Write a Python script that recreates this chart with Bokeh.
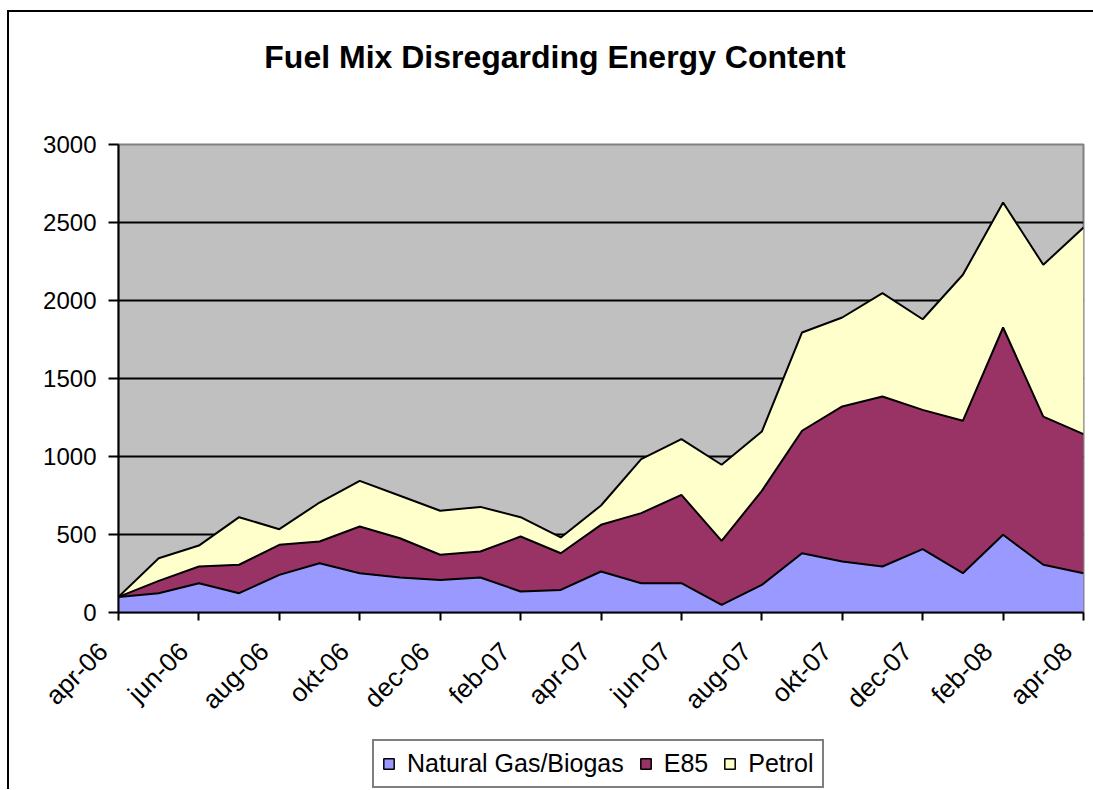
import numpy as np
from math import pi
from bokeh.plotting import figure
from bokeh.layouts import column
from bokeh.models import (ColumnDataSource, FixedTicker, Range1d, Legend, LegendItem, Label)
from bokeh.embed import file_html
from bokeh.resources import INLINE

# ---- data ----
months = ["apr-06", "maj-06", "jun-06", "jul-06", "aug-06", "sep-06", "okt-06", "nov-06",
          "dec-06", "jan-07", "feb-07", "mar-07", "apr-07", "maj-07", "jun-07", "jul-07",
          "aug-07", "sep-07", "okt-07", "nov-07", "dec-07", "jan-08", "feb-08", "mar-08", "apr-08"]
gas = [100, 124, 188, 124, 241, 316, 252, 224, 209, 224, 135, 145, 263,
       188, 188, 49, 177, 380, 327, 295, 406, 252, 498, 306, 252]
e85 = [0, 79, 107, 182, 193, 139, 299, 252, 161, 167, 352, 235, 299,
       449, 566, 410, 603, 785, 994, 1090, 893, 977, 1329, 950, 891]
petrol = [0, 145, 134, 305, 100, 250, 293, 272, 282, 286, 124, 101, 124,
          346, 357, 488, 380, 630, 570, 662, 581, 936, 801, 973, 1325]
series_names = ["Natural Gas/Biogas", "E85", "Petrol"]
series_colors = ["#9999FF", "#993366", "#FFFFCC"]
y_ticks = [0, 500, 1000, 1500, 2000, 2500, 3000]
title_text = "Fuel Mix Disregarding Energy Content"

FONT = "Liberation Sans"
W = 1084
LEFT = 109
RIGHT = 10
PAD = "\u00a0\u00a0\u00a0"  # trailing non-breaking spaces nudge rotated labels left of their ticks


def blank(height):
    f = figure(width=W, height=height, output_backend="svg", toolbar_location=None,
               x_range=Range1d(0, 1), y_range=Range1d(0, 1),
               x_axis_location=None, y_axis_location=None,
               min_border_left=LEFT, min_border_right=RIGHT,
               min_border_top=0, min_border_bottom=0,
               background_fill_color="white", border_fill_color="white")
    f.outline_line_color = None
    f.grid.visible = False
    return f


# ---- title strip ----
top = blank(100)
top.add_layout(Label(x=545.5 - LEFT, y=56, x_units="screen", y_units="screen", text=title_text,
                     text_font=FONT, text_font_size="32px", text_font_style="bold",
                     text_color="black", text_align="center", text_baseline="middle"))

# ---- main chart ----
x = list(range(len(months)))
src = ColumnDataSource(dict(x=x, gas=gas, e85=e85, petrol=petrol))

p = figure(width=W, height=626, output_backend="svg", toolbar_location=None,
           x_range=Range1d(0, len(months) - 1), y_range=Range1d(0, 3000),
           min_border_left=LEFT, min_border_right=RIGHT, min_border_top=32, min_border_bottom=126,
           background_fill_color="#C0C0C0", border_fill_color="white")

p.varea_stack(stackers=["gas", "e85", "petrol"], x="x", color=series_colors, source=src)
p.vline_stack(stackers=["gas", "e85", "petrol"], x="x", color="black", line_width=2, source=src)

p.outline_line_color = "#808080"
p.outline_line_width = 2
p.xgrid.visible = False
p.ygrid.grid_line_color = "black"
p.ygrid.grid_line_width = 2
p.ygrid.ticker = FixedTicker(ticks=y_ticks)

p.yaxis.ticker = FixedTicker(ticks=y_ticks)
p.xaxis.ticker = FixedTicker(ticks=x[::2])
p.xaxis.major_label_overrides = {i: months[i] + PAD for i in x}
p.xaxis.major_label_orientation = pi / 4
for ax in (p.xaxis[0], p.yaxis[0]):
    ax.axis_line_color = "black"
    ax.axis_line_width = 2
    ax.major_tick_line_color = "black"
    ax.major_tick_line_width = 2
    ax.major_tick_in = 0
    ax.minor_tick_line_color = None
    ax.major_label_text_font = FONT
    ax.major_label_text_color = "black"
p.yaxis.major_label_text_font_size = "24px"
p.yaxis.major_tick_out = 10
p.yaxis.major_label_standoff = 12
p.xaxis.major_label_text_font_size = "26px"
p.xaxis.major_tick_out = 8
p.xaxis.major_label_standoff = 11

# ---- legend strip ----
bot = blank(51)
items = []
for name, col in zip(series_names, series_colors):
    r = bot.quad(left=[-3], right=[-2], top=[-2], bottom=[-3], fill_color=col,
                 line_color="black", line_width=1.5)
    items.append(LegendItem(label=name, renderers=[r]))
legend = Legend(items=items, orientation="horizontal", location=(363 - LEFT, 1),
                label_text_font=FONT, label_text_font_size="25px", label_height=25,
                label_text_color="black",
                glyph_width=13, glyph_height=13, label_standoff=12, spacing=15,
                padding=8, margin=0, border_line_color="black", border_line_width=2,
                background_fill_color="white", background_fill_alpha=1.0)
bot.add_layout(legend, "center")

layout = column(top, p, bot, spacing=0,
                styles={"margin-left": "7px", "margin-top": "10px",
                        "border-left": "2px solid black", "border-top": "2px solid black"})

open("out.html", "w").write(file_html(layout, INLINE))
